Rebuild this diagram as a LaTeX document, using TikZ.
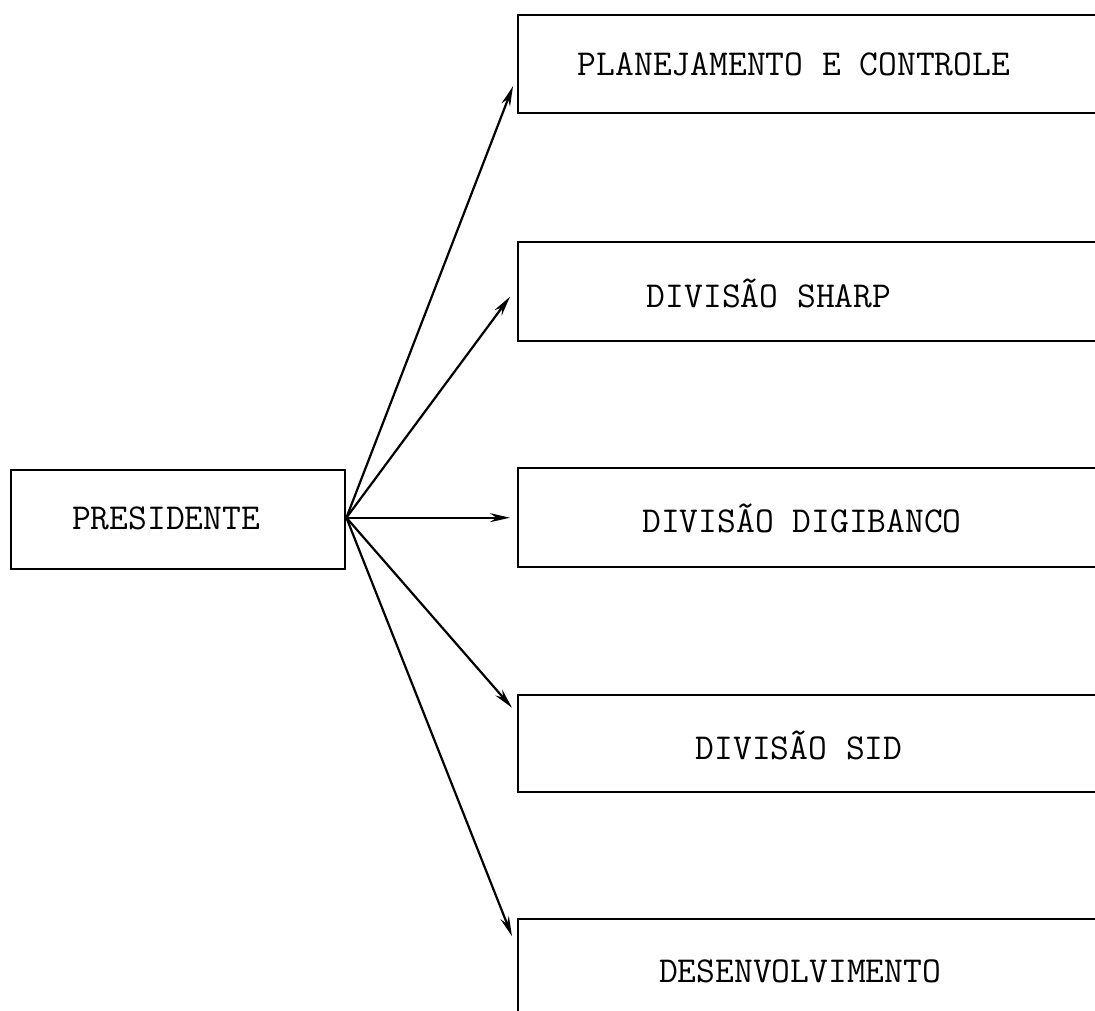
\documentclass[tikz,border=0pt]{standalone}
\usepackage{fontspec}
\usetikzlibrary{arrows.meta}
\begin{document}
\begin{tikzpicture}[x=1pt,y=-1pt,
  box/.style={draw=black,line width=2.4pt,rectangle,inner sep=0pt,anchor=north west},
  lbl/.style={font=\fontsize{36.5}{40}\selectfont\ttfamily},
  conn/.style={line width=2.2pt,-{Stealth[length=20pt,width=9pt]}}]
\clip (0,0) rectangle (1095,1010);
\node[box,minimum width=334pt,minimum height=99pt] (p) at (10,469) {};
\node[lbl] at (166,518) {PRESIDENTE};
\node[box,minimum width=600pt,minimum height=98pt] (b1) at (517,14) {};
\node[box,minimum width=600pt,minimum height=99pt] (b2) at (517,241) {};
\node[box,minimum width=600pt,minimum height=99pt] (b3) at (517,467) {};
\node[box,minimum width=600pt,minimum height=97pt] (b4) at (517,694) {};
\node[box,minimum width=600pt,minimum height=110pt] (b5) at (517,918) {};
\node[lbl] at (794,64) {PLANEJAMENTO E CONTROLE};
\node[lbl] at (769,293) {DIVISÃO SHARP};
\node[lbl] at (802,518) {DIVISÃO DIGIBANCO};
\node[lbl] at (799,745) {DIVISÃO SID};
\node[lbl] at (800,971) {DESENVOLVIMENTO};
\coordinate (o) at (p.east |- b3.west);
\draw[conn] (o) -- ([shift={(-4,22)}]b1.west);
\draw[conn] (o) -- ([shift={(-7,5)}]b2.west);
\draw[conn] (o) -- ([xshift=-7pt]b3.west);
\draw[conn] (o) -- ([shift={(-5,-36)}]b4.west);
\draw[conn] (o) -- ([shift={(-5,-38)}]b5.west);
\end{tikzpicture}
\end{document}
